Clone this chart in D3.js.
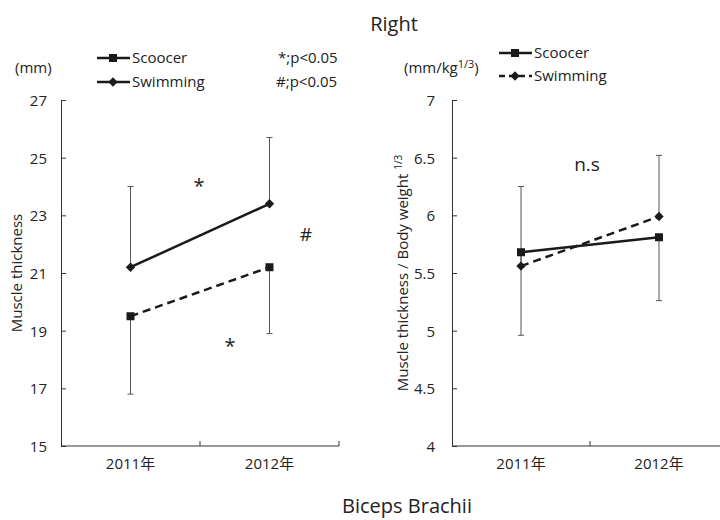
<!DOCTYPE html>
<html>
<head>
<meta charset="utf-8">
<script src="https://cdn.jsdelivr.net/npm/d3@7"></script>
<style>
  body { margin: 0; background: #fff; }
  svg { font-family: 'Open Sans', 'Noto Sans CJK JP', sans-serif; }
  .axis path, .axis line { stroke: #333; }
  .axis text { fill: #222; font-size: 15px; font-family: 'Open Sans', 'Noto Sans CJK JP', sans-serif; }
</style>
</head>
<body>
<svg id="chart" width="720" height="520"></svg>
<script>
const years = ['2011年', '2012年'];

// left panel: muscle thickness (mm)
const scoocerMm = [19.5, 21.2];
const scoocerMmErr = [2.7, 2.3];     // drawn downward
const swimmingMm = [21.2, 23.4];
const swimmingMmErr = [2.8, 2.3];    // drawn upward
const mmTicks = [15, 17, 19, 21, 23, 25, 27];

// right panel: muscle thickness / body weight^(1/3)
const scoocerRel = [5.68, 5.81];
const scoocerRelErr = [0.72, 0.55];
const swimmingRel = [5.56, 5.99];
const swimmingRelErr = [0.69, 0.53];
const relTicks = [4, 4.5, 5, 5.5, 6, 6.5, 7];

const svg = d3.select('#chart');

const square = d3.symbol().type(d3.symbolSquare).size(64)();
const diamond = d3.symbol().type(d3.symbolSquare).size(44)();

function markerTransform(marker, px, py) {
  return `translate(${px},${py})` + (marker === diamond ? ' rotate(45)' : '');
}

function drawPanel(cfg) {
  const g = svg.append('g');

  const x = d3.scaleBand().domain(years).range([cfg.x0, cfg.x1]);
  const y = d3.scaleLinear().domain(cfg.domain).range([446, 100]);

  // y axis
  g.append('g')
    .attr('class', 'axis')
    .attr('transform', `translate(${cfg.x0},0)`)
    .call(d3.axisLeft(y).tickValues(cfg.ticks).tickFormat((d) => String(d))
      .tickSizeInner(-5).tickSizeOuter(0).tickPadding(cfg.pad))
    .call((a) => a.selectAll('text').attr('dy', '0.36em'));

  // x axis labels
  const xa = g.append('g')
    .attr('class', 'axis')
    .attr('transform', 'translate(0,446)')
    .call(d3.axisBottom(x).tickSize(0).tickPadding(12));
  xa.select('.domain').remove();

  // x axis line + boundary ticks (inside)
  g.append('line')
    .attr('x1', cfg.x0).attr('x2', cfg.x1)
    .attr('y1', 446).attr('y2', 446)
    .attr('stroke', '#333');
  g.selectAll('.bt')
    .data(years.map((d) => x(d)).slice(1).concat([cfg.x1]))
    .enter()
    .append('line')
    .attr('x1', (d) => d).attr('x2', (d) => d)
    .attr('y1', 446).attr('y2', 441)
    .attr('stroke', '#333');

  const cx = (i) => x(years[i]) + x.bandwidth() / 2;

  // error bars
  const bars = [];
  cfg.series.forEach((s) => {
    s.values.forEach((v, i) => {
      bars.push({ x: cx(i), from: v, to: v + s.dir * s.err[i] });
    });
  });
  g.selectAll('.eb')
    .data(bars)
    .enter()
    .append('line')
    .attr('x1', (d) => d.x).attr('x2', (d) => d.x)
    .attr('y1', (d) => y(d.from)).attr('y2', (d) => y(d.to))
    .attr('stroke', '#555').attr('stroke-width', 1);
  g.selectAll('.cap')
    .data(bars)
    .enter()
    .append('line')
    .attr('x1', (d) => d.x - 3).attr('x2', (d) => d.x + 3)
    .attr('y1', (d) => y(d.to)).attr('y2', (d) => y(d.to))
    .attr('stroke', '#555').attr('stroke-width', 1);

  // lines + markers
  const line = d3.line().x((d, i) => cx(i)).y((d) => y(d));
  cfg.series.forEach((s) => {
    g.append('path')
      .attr('d', line(s.values))
      .attr('fill', 'none')
      .attr('stroke', '#1a1a1a')
      .attr('stroke-width', 2.5)
      .attr('stroke-dasharray', s.dashed ? '8,5' : null);
    g.selectAll(null)
      .data(s.values)
      .enter()
      .append('path')
      .attr('d', s.marker)
      .attr('fill', '#1a1a1a')
      .attr('transform', (d, i) => markerTransform(s.marker, cx(i), y(d)));
  });

  // unit label
  g.append('text')
    .attr('x', cfg.unitX).attr('y', 68)
    .attr('dy', '0.36em')
    .attr('font-size', 15)
    .attr('fill', '#222')
    .html(cfg.unit);

  // axis title
  g.append('text')
    .attr('transform', `translate(${cfg.titleX},273) rotate(-90)`)
    .attr('text-anchor', 'middle')
    .attr('dy', '0.36em')
    .attr('font-size', 15)
    .attr('fill', '#222')
    .html(cfg.title);

  // legend
  cfg.legend.forEach((l) => {
    const ly = l.y;
    g.append('line')
      .attr('x1', cfg.legX).attr('x2', cfg.legX + 33)
      .attr('y1', ly).attr('y2', ly)
      .attr('stroke', '#1a1a1a').attr('stroke-width', 2.5)
      .attr('stroke-dasharray', l.dashed ? '6,4' : null);
    g.append('path')
      .attr('d', l.marker)
      .attr('fill', '#1a1a1a')
      .attr('transform', markerTransform(l.marker, cfg.legX + 16, ly));
    g.append('text')
      .attr('x', cfg.legX + 35).attr('y', ly)
      .attr('dy', '0.36em')
      .attr('font-size', 15)
      .attr('fill', '#222')
      .text(l.name);
  });

  return { x, y, g };
}

drawPanel({
  x0: 61, x1: 339,
  domain: [15, 27], ticks: mmTicks, pad: 14,
  unit: '(mm)', unitX: 15,
  title: 'Muscle thickness', titleX: 17,
  legX: 97,
  legend: [
    { name: 'Scoocer', marker: square, dashed: false, y: 58 },
    { name: 'Swimming', marker: diamond, dashed: false, y: 82 },
  ],
  series: [
    { values: swimmingMm, err: swimmingMmErr, dir: 1, marker: diamond, dashed: false },
    { values: scoocerMm, err: scoocerMmErr, dir: -1, marker: square, dashed: true },
  ],
});

drawPanel({
  x0: 452, x1: 728,
  domain: [4, 7], ticks: relTicks, pad: 17,
  unit: '(mm/kg<tspan font-size="11" dy="-5">1/3</tspan><tspan dy="5">)</tspan>', unitX: 404,
  title: 'Muscle thickness / Body weight <tspan font-size="10" dy="-6">1/3</tspan>', titleX: 403,
  legX: 499,
  legend: [
    { name: 'Scoocer', marker: square, dashed: false, y: 53 },
    { name: 'Swimming', marker: diamond, dashed: true, y: 76 },
  ],
  series: [
    { values: swimmingRel, err: swimmingRelErr, dir: 1, marker: diamond, dashed: true },
    { values: scoocerRel, err: scoocerRelErr, dir: -1, marker: square, dashed: false },
  ],
});

// annotations
const notes = [
  { text: '*;p<0.05', x: 278, y: 58, size: 15, anchor: 'start' },
  { text: '#;p<0.05', x: 276, y: 82, size: 15, anchor: 'start' },
  { text: '*', x: 199, y: 186, size: 20, anchor: 'middle' },
  { text: '*', x: 230, y: 346, size: 20, anchor: 'middle' },
  { text: '#', x: 306, y: 234, size: 19, anchor: 'middle' },
  { text: 'n.s', x: 587, y: 164, size: 19, anchor: 'middle' },
  { text: 'Right', x: 394, y: 24, size: 20, anchor: 'middle' },
  { text: 'Biceps Brachii', x: 407, y: 506, size: 20, anchor: 'middle' },
];
svg.selectAll('.note')
  .data(notes)
  .enter()
  .append('text')
  .attr('x', (d) => d.x).attr('y', (d) => d.y)
  .attr('dy', '0.36em')
  .attr('text-anchor', (d) => d.anchor)
  .attr('font-size', (d) => d.size)
  .attr('fill', '#222')
  .text((d) => d.text);
</script>
</body>
</html>
